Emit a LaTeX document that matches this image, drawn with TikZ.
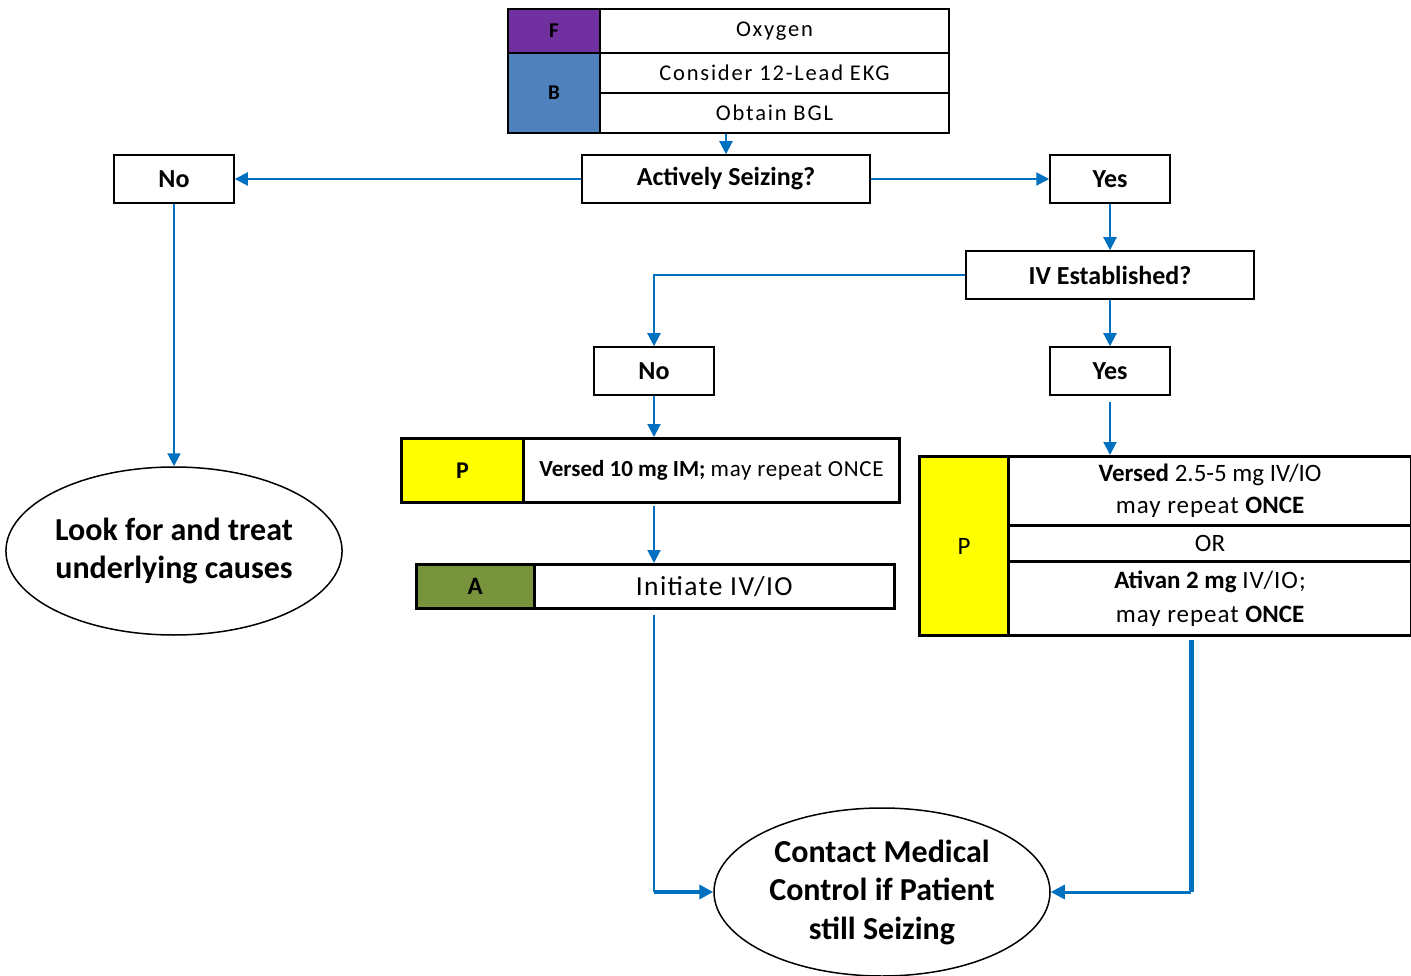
\documentclass[tikz,border=0pt]{standalone}
\usepackage{fontspec}
\setmainfont{Carlito}
\usetikzlibrary{arrows.meta,shapes.geometric}
\definecolor{arrowblue}{HTML}{0070C0}
\definecolor{fpurple}{HTML}{7030A0}
\definecolor{bblue}{HTML}{4F81BD}
\definecolor{agreen}{HTML}{77933C}
\definecolor{pyellow}{HTML}{FFFF00}
\begin{document}
\begin{tikzpicture}[x=1pt,y=-1pt,
  box/.style={draw=black, line width=1.5pt, fill=white, inner sep=0pt,
    minimum width=120pt, minimum height=48pt,
    font=\fontsize{26}{30}\selectfont\bfseries},
  cell/.style={draw=black, line width=2pt, inner sep=0pt, anchor=north west},
  spaced/.style={font=\addfontfeatures{LetterSpace=8}\fontsize{22.5}{26}\selectfont},
  oval/.style={draw=black, ellipse, line width=1.5pt, fill=white, inner sep=0pt,
    minimum width=336pt, minimum height=168pt, align=center,
    font=\fontsize{32}{38.5}\selectfont\bfseries},
  arr/.style={draw=arrowblue, line width=2pt, -{Triangle[length=13pt,width=13pt]}},
  link/.style={draw=arrowblue, line width=2pt},
]
\useasboundingbox (0,0) rectangle (1411,976);
% top table
\node[cell, fill=fpurple, minimum width=92pt, minimum height=44pt, font=\fontsize{21}{24}\selectfont\bfseries] (F) at (507,8) {F};
\node[cell, fill=bblue, minimum width=92pt, minimum height=80pt, font=\fontsize{21}{24}\selectfont\bfseries] (B) at (507,52) {B};
\node[cell, spaced, minimum width=349pt, minimum height=44pt] (ox) at (599,8) {Oxygen};
\node[cell, spaced, minimum width=349pt, minimum height=40pt] (ekg) at (599,52) {Consider 12-Lead EKG};
\node[cell, spaced, minimum width=349pt, minimum height=40pt] (bgl) at (599,92) {Obtain BGL};
% decision boxes
\node[box, minimum width=288pt] (act) at (726,179) {Actively Seizing?};
\node[box] (no1) at (174,179) {No};
\node[box] (yes1) at (1110,179) {Yes};
\node[box, minimum width=288pt] (iv) at (1110,275) {IV Established?};
\node[box] (no2) at (654,371) {No};
\node[box] (yes2) at (1110,371) {Yes};
% ellipses
\node[oval] (look) at (174,551) {Look for and treat\\underlying causes};
\node[oval] (contact) at (882,892) {Contact Medical\\Control if Patient\\still Seizing};
% Versed IM box
\node[cell, line width=3pt, fill=pyellow, minimum width=122pt, minimum height=64pt, font=\fontsize{24}{26}\selectfont\bfseries] (p1) at (400,437) {P};
\node[cell, line width=3pt, minimum width=376pt, minimum height=64pt, font=\fontsize{23}{26}\selectfont] (v10) at (522,437) {\textbf{Versed 10 mg IM;} \addfontfeatures{LetterSpace=3}may repeat ONCE};
% Initiate box
\node[cell, line width=2.5pt, fill=agreen, minimum width=118pt, minimum height=44pt, font=\fontsize{25}{27}\selectfont\bfseries] (a1) at (415,563) {A};
\node[cell, line width=2.5pt, minimum width=360pt, minimum height=44pt, font=\addfontfeatures{LetterSpace=5}\fontsize{27.5}{30}\selectfont] (init) at (533,563) {Initiate IV/IO};
% Right P box
\node[cell, line width=3pt, fill=pyellow, minimum width=89pt, minimum height=179pt, font=\fontsize{25}{27}\selectfont] (p2) at (918,455) {P};
\node[cell, line width=3pt, minimum width=403pt, minimum height=69pt, align=center, font=\fontsize{25}{32}\selectfont] (rv1) at (1007,455) {\textbf{Versed} 2.5-5 mg IV/IO\\{\addfontfeatures{LetterSpace=4}may repeat} \textbf{ONCE}};
\node[cell, line width=3pt, minimum width=403pt, minimum height=36pt, font=\fontsize{25}{28}\selectfont] (rv2) at (1007,524) {OR};
\node[cell, line width=3pt, minimum width=403pt, minimum height=74pt, align=center, font=\fontsize{25}{34}\selectfont] (rv3) at (1007,560) {\textbf{Ativan 2 mg} {\addfontfeatures{LetterSpace=4}IV/IO;}\\{\addfontfeatures{LetterSpace=4}may repeat} \textbf{ONCE}};
% connectors
\draw[arr] (act.north |- bgl.south) -- (act.north);
\draw[arr] (act.west) -- (no1.east);
\draw[arr] (act.east) -- (yes1.west);
\draw[arr] (no1.south) -- (look.north);
\draw[arr] (yes1.south) -- (iv.north);
\draw[arr] (iv.west) -| (no2.north);
\draw[arr] (iv.south) -- (yes2.north);
\draw[arr] (no2.south) -- (no2.south |- v10.north);
\draw[arr, shorten <=6pt] (yes2.south) -- (yes2.south |- rv1.north);
\draw[arr, shorten <=2pt] (no2.south |- v10.south) -- (no2.south |- init.north);
\coordinate (c1) at (no2.south |- contact.west);
\draw[link, shorten <=5pt] (no2.south |- init.south) -- (c1);
\draw[arr, line width=3.5pt, -{Triangle[length=14pt,width=14pt]}] (c1) -- (contact.west);
\coordinate (r0) at (1191,640);
\coordinate (c2) at (r0 |- contact.east);
\draw[link, line width=5pt] (r0) -- (c2);
\draw[arr, line width=3pt, -{Triangle[length=14pt,width=14pt]}] (c2) -- (contact.east);
\end{tikzpicture}
\end{document}
